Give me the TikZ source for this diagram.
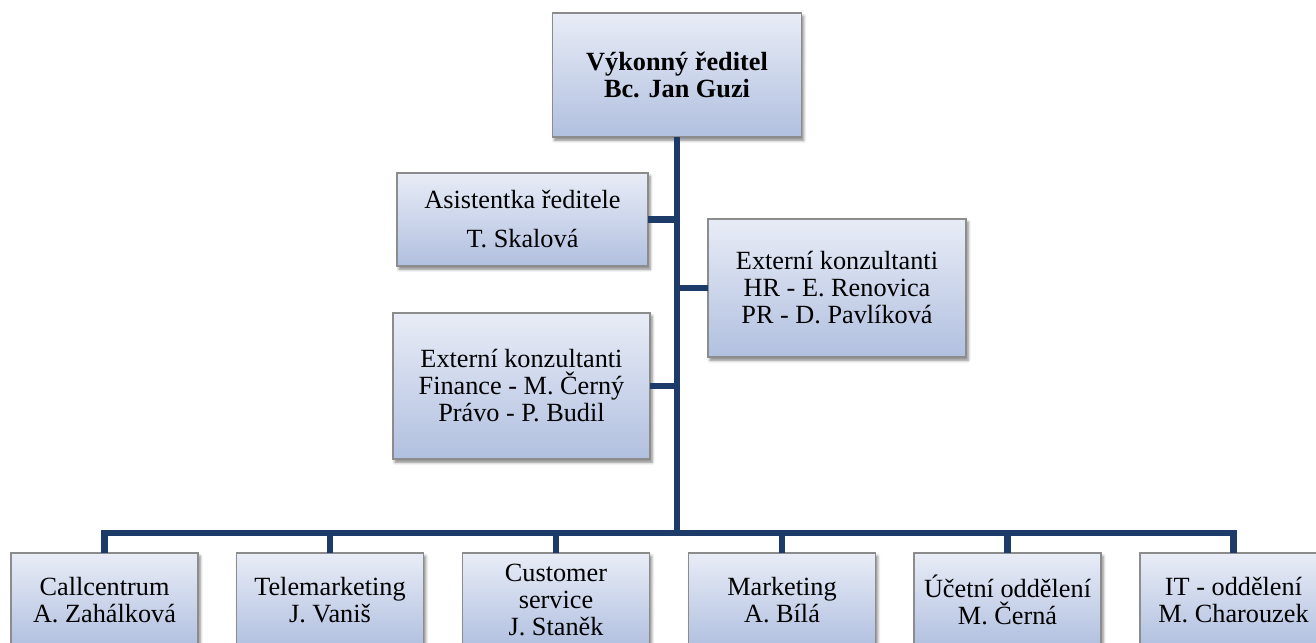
\documentclass[tikz,border=0pt]{standalone}
\usepackage{fontspec}
\setmainfont{Liberation Serif}
\usetikzlibrary{shadows.blur}
\definecolor{boxtop}{RGB}{232,236,246}
\definecolor{boxbot}{RGB}{177,192,224}
\definecolor{boxline}{RGB}{140,140,140}
\definecolor{conncol}{RGB}{28,59,104}
\tikzset{
  orgbox/.style={draw=boxline, line width=0.8pt, top color=boxtop, bottom color=boxbot,
    inner sep=0pt, outer sep=0pt, align=center, text=black,
    font=\fontsize{19.7}{20.25}\selectfont,
    blur shadow={shadow xshift=1.5pt, shadow yshift=-2.4pt, shadow blur radius=2.2pt, shadow opacity=50}},
  botbox/.style={orgbox, minimum width=140.25pt, minimum height=70.5pt},
  conn/.style={draw=conncol, line width=4.6pt, line join=miter}
}
\begin{document}
\begin{tikzpicture}[x=0.75pt, y=-0.75pt]
\useasboundingbox (0,0) rectangle (1316,642);
\clip (0,0) rectangle (1316,642);
\node[orgbox, minimum width=186.75pt, minimum height=93pt, font=\fontsize{19.7}{20.25}\selectfont\bfseries] (top) at (677,75) {Výkonný ředitel\\Bc. Jan Guzi};
\coordinate (bus) at (677,533);
\node[orgbox, minimum width=188.25pt, minimum height=69.75pt] (asst) at (522.5,219.5) {Asistentka ředitele\\[9pt]T. Skalová};
\node[orgbox, minimum width=193.5pt, minimum height=103.5pt] (hr) at (837,288) {Externí konzultanti\\HR - E. Renovica\\PR - D. Pavlíková};
\node[orgbox, minimum width=192.75pt, minimum height=109.5pt] (fin) at (521.5,386) {Externí konzultanti\\Finance - M. Černý\\Právo - P. Budil};
\node[botbox] (c1) at (104.5,600) {Callcentrum\\A. Zahálková};
\node[botbox] (c2) at (330,600) {Telemarketing\\J. Vaniš};
\node[botbox] (c3) at (556,600) {Customer\\service\\J. Staněk};
\node[botbox] (c4) at (782,600) {Marketing\\A. Bílá};
\node[botbox] (c5) at (1007.5,600) {Účetní oddělení\\M. Černá};
\node[botbox] (c6) at (1233.5,600) {IT - oddělení\\M. Charouzek};
% connectors
\draw[conn] (top.south) -- (bus);
\draw[conn] (asst.east) -- (asst.east -| bus);
\draw[conn] (hr.west) -- (hr.west -| bus);
\draw[conn] (fin.east) -- (fin.east -| bus);
\draw[conn] (c1.north) |- (c6.north |- bus) -- (c6.north);
\foreach \n in {c2,c3,c4,c5}{\draw[conn] (\n.north) -- (\n.north |- bus);}
\end{tikzpicture}
\end{document}
